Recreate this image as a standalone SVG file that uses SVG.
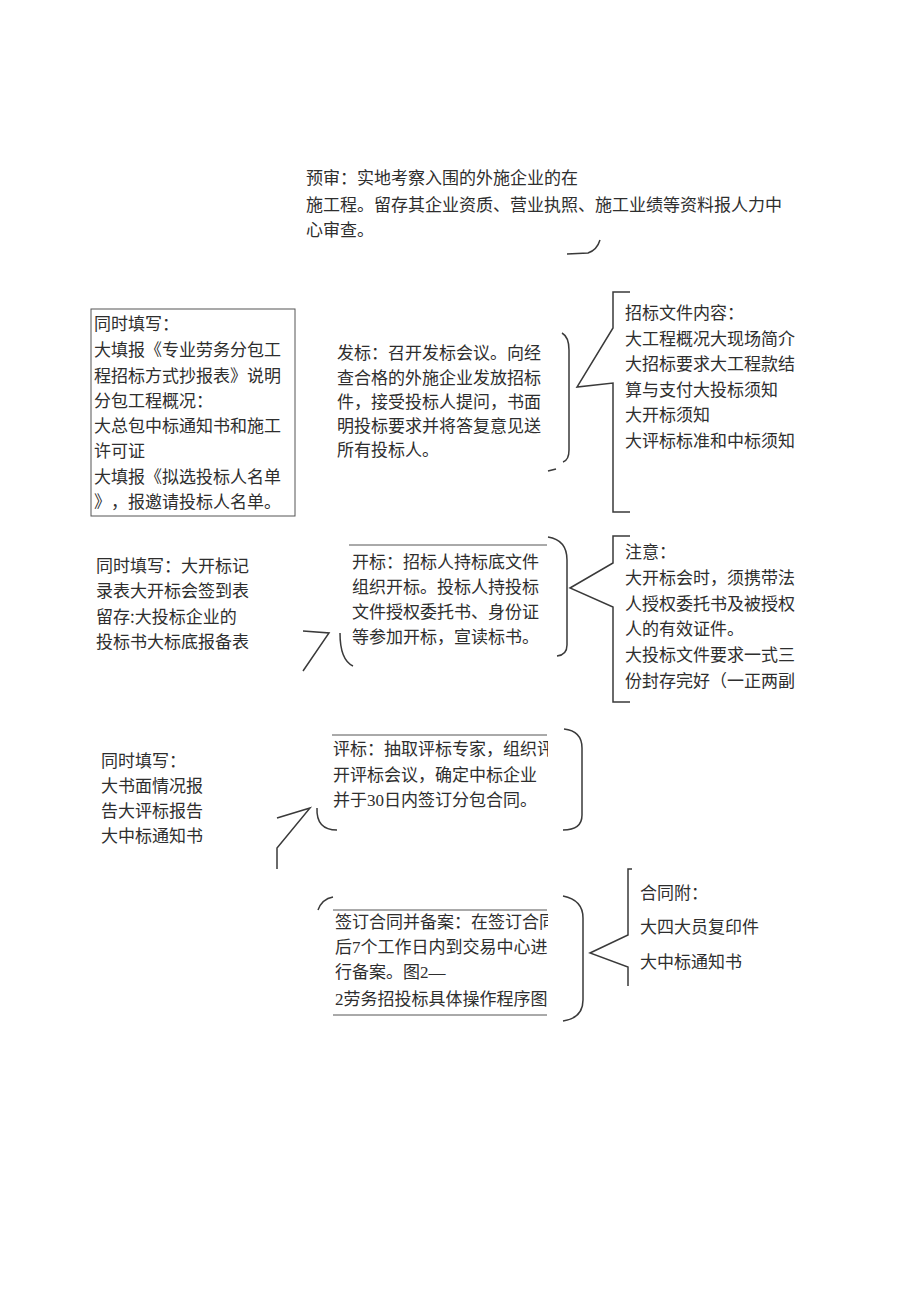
<svg xmlns="http://www.w3.org/2000/svg" width="920" height="1301" viewBox="0 0 920 1301">
<style>
text{font-family:"Noto Sans CJK SC","Liberation Sans",sans-serif;font-size:17px;fill:#2e2e2e;text-spacing-trim:space-all;font-kerning:none;}
.d{font-family:"Liberation Serif",serif;}
.c{fill:none;stroke:#3a3a3a;stroke-width:1.5;}
.b{fill:none;stroke:#555;stroke-width:1;}
</style>
<defs>
<clipPath id="clipOpen"><rect x="340" y="540" width="208" height="120"/></clipPath>
<clipPath id="clipEval"><rect x="325" y="730" width="223" height="90"/></clipPath>
<clipPath id="clipSign"><rect x="325" y="905" width="223" height="115"/></clipPath>
</defs>
<rect width="920" height="1301" fill="#fff"/>
<g id="connectors">
<path class="c" d="M567,254 L588,253 Q597,250 600,240"/>
<path class="c" d="M562,333 Q569,337 569,350 L569,450 Q569,460 563,462"/>
<path class="c" d="M548,471 L556,469"/>
<path class="c" d="M630,292 L613,292 L613,328 L577,387 L613,383 L613,512 L630,512"/>
<path class="c" d="M548,537 Q567,540 567,560 L567,645 Q567,655 557,656"/>
<path class="c" d="M630,536 L613,536 L613,563 L570,588 L613,607 L613,702 L630,702"/>
<path class="c" d="M303,631 L329,633 L303,671"/>
<path class="c" d="M340,633 Q340,660 353,666"/>
<path class="c" d="M564,729 Q582,731 582,748 L582,815 Q582,830 563,830"/>
<path class="c" d="M277,818 L310,808 L277,848 L277,869"/>
<path class="c" d="M317,808 Q316,830 337,830"/>
<path class="c" d="M563,896 Q583,900 583,918 L583,1000 Q583,1018 563,1021"/>
<path class="c" d="M318,910 Q322,899 333,897"/>
<path class="c" d="M632,869 L628,869 L628,935 L590,953 L628,967 L628,986"/>
</g>
<g id="prereview">
<text x="306" y="184">预审：实地考察入围的外施企业的在</text>
<text x="306" y="211">施工程。留存其企业资质、营业执照、施工业绩等资料报人力中</text>
<text x="306" y="236">心审查。</text>
</g>
<g id="fill1">
<rect class="b" x="91" y="309" width="204" height="207"/>
<text x="94" y="330">同时填写：</text>
<text x="94" y="356">大填报《专业劳务分包工</text>
<text x="94" y="382">程招标方式抄报表》说明</text>
<text x="94" y="407">分包工程概况：</text>
<text x="94" y="432">大总包中标通知书和施工</text>
<text x="94" y="457">许可证</text>
<text x="94" y="483">大填报《拟选投标人名单</text>
<text x="94" y="508">》，报邀请投标人名单。</text>
</g>
<g id="issue">
<text x="337" y="359">发标：召开发标会议。向经</text>
<text x="337" y="384">查合格的外施企业发放招标</text>
<text x="337" y="408">件，接受投标人提问，书面</text>
<text x="337" y="432">明投标要求并将答复意见送</text>
<text x="337" y="456">所有投标人。</text>
</g>
<g id="docs">
<text x="625" y="319">招标文件内容：</text>
<text x="625" y="345">大工程概况大现场简介</text>
<text x="625" y="370">大招标要求大工程款结</text>
<text x="625" y="396">算与支付大投标须知</text>
<text x="625" y="421">大开标须知</text>
<text x="625" y="447">大评标标准和中标须知</text>
</g>
<g id="fill2">
<text x="96" y="572">同时填写：大开标记</text>
<text x="96" y="597">录表大开标会签到表</text>
<text x="96" y="623">留存:大投标企业的</text>
<text x="96" y="648">投标书大标底报备表</text>
</g>
<g id="open">
<line class="b" x1="349" y1="545" x2="547" y2="545"/>
<g clip-path="url(#clipOpen)">
<text x="352" y="568">开标：招标人持标底文件</text>
<text x="352" y="593">组织开标。投标人持投标</text>
<text x="352" y="618">文件授权委托书、身份证</text>
<text x="352" y="643">等参加开标，宣读标书。</text>
</g>
</g>
<g id="notice">
<text x="625" y="558">注意：</text>
<text x="625" y="584">大开标会时，须携带法</text>
<text x="625" y="610">人授权委托书及被授权</text>
<text x="625" y="635">人的有效证件。</text>
<text x="625" y="661">大投标文件要求一式三</text>
<text x="625" y="687">份封存完好（一正两副</text>
</g>
<g id="fill3">
<text x="101" y="767">同时填写：</text>
<text x="101" y="792">大书面情况报</text>
<text x="101" y="817">告大评标报告</text>
<text x="101" y="842">大中标通知书</text>
</g>
<g id="evaluate">
<line class="b" x1="332" y1="735" x2="547" y2="735"/>
<g clip-path="url(#clipEval)">
<text x="333" y="755">评标：抽取评标专家，组织评</text>
<text x="333" y="781">开评标会议，确定中标企业</text>
<text x="333" y="806">并于<tspan class="d">30</tspan>日内签订分包合同。</text>
</g>
</g>
<g id="sign">
<line class="b" x1="333" y1="910" x2="547" y2="910"/>
<line class="b" x1="333" y1="1015" x2="547" y2="1015"/>
<g clip-path="url(#clipSign)">
<text x="335" y="928">签订合同并备案：在签订合同</text>
<text x="335" y="953">后<tspan class="d">7</tspan>个工作日内到交易中心进</text>
<text x="335" y="978">行备案。图<tspan class="d">2—</tspan></text>
<text x="335" y="1005"><tspan class="d">2</tspan>劳务招投标具体操作程序图</text>
</g>
</g>
<g id="attach">
<text x="640" y="899">合同附：</text>
<text x="640" y="933">大四大员复印件</text>
<text x="640" y="968">大中标通知书</text>
</g>
</svg>
